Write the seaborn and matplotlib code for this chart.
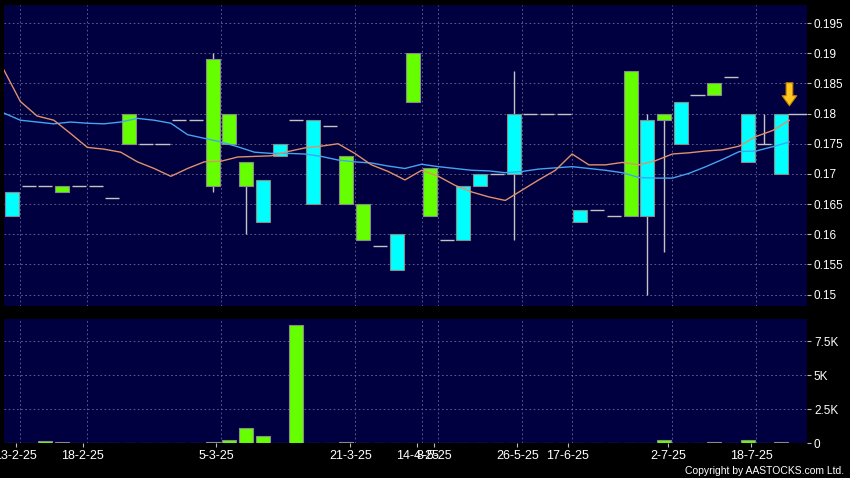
import matplotlib
matplotlib.use("Agg")
import matplotlib.pyplot as plt
import seaborn as sns
import numpy as np
import pandas as pd

# candle data, one entry per bar (oldest first)
opens = [0.163, 0.168, 0.168, 0.168, 0.168, 0.168, 0.166, 0.180, 0.175, 0.175,
         0.179, 0.179, 0.189, 0.180, 0.172, 0.162, 0.173, 0.179, 0.165, 0.178,
         0.173, 0.165, 0.158, 0.154, 0.190, 0.171, 0.159, 0.159, 0.168, 0.170,
         0.170, 0.180, 0.180, 0.180, 0.162, 0.164, 0.163, 0.187, 0.163, 0.180,
         0.175, 0.183, 0.185, 0.186, 0.172, 0.175, 0.170]
closes = [0.167, 0.168, 0.168, 0.167, 0.168, 0.168, 0.166, 0.175, 0.175, 0.175,
          0.179, 0.179, 0.168, 0.175, 0.168, 0.169, 0.175, 0.179, 0.179, 0.178,
          0.165, 0.159, 0.158, 0.160, 0.182, 0.163, 0.159, 0.168, 0.170, 0.170,
          0.180, 0.180, 0.180, 0.180, 0.164, 0.164, 0.163, 0.163, 0.179, 0.179,
          0.182, 0.183, 0.183, 0.186, 0.180, 0.175, 0.180]
highs = [0.167, 0.168, 0.168, 0.168, 0.168, 0.168, 0.166, 0.180, 0.175, 0.175,
         0.179, 0.179, 0.190, 0.180, 0.172, 0.169, 0.175, 0.179, 0.179, 0.178,
         0.173, 0.165, 0.158, 0.160, 0.190, 0.171, 0.159, 0.168, 0.170, 0.170,
         0.187, 0.180, 0.180, 0.180, 0.164, 0.164, 0.163, 0.187, 0.180, 0.180,
         0.182, 0.183, 0.185, 0.186, 0.180, 0.180, 0.180]
lows = [0.163, 0.168, 0.168, 0.167, 0.168, 0.168, 0.166, 0.175, 0.175, 0.175,
        0.179, 0.179, 0.167, 0.175, 0.160, 0.162, 0.173, 0.179, 0.165, 0.178,
        0.165, 0.159, 0.158, 0.154, 0.182, 0.163, 0.159, 0.159, 0.168, 0.170,
        0.159, 0.180, 0.180, 0.180, 0.162, 0.164, 0.163, 0.163, 0.150, 0.157,
        0.175, 0.183, 0.183, 0.186, 0.172, 0.175, 0.170]
volumes = [0, 0, 200, 100, 0, 0, 20, 20, 0, 30,
           0, 0, 100, 250, 1150, 540, 0, 8700, 10, 0,
           70, 0, 10, 10, 10, 0, 50, 0, 50, 0,
           30, 0, 0, 20, 0, 0, 0, 0, 30, 220,
           0, 0, 60, 0, 230, 0, 80]

# moving averages, sampled between bars (one more point than bars)
ma_fast = [0.1873, 0.1820, 0.1796, 0.1789, 0.1767, 0.1744, 0.1741, 0.1736, 0.1720, 0.1709,
           0.1696, 0.1709, 0.1720, 0.1721, 0.1728, 0.1729, 0.1730, 0.1737, 0.1743, 0.1746,
           0.1750, 0.1734, 0.1715, 0.1704, 0.1690, 0.1706, 0.1696, 0.1681, 0.1670, 0.1662,
           0.1656, 0.1673, 0.1690, 0.1706, 0.1733, 0.1715, 0.1715, 0.1719, 0.1715, 0.1722,
           0.1733, 0.1735, 0.1738, 0.1740, 0.1746, 0.1762, 0.1772, 0.1789]
ma_slow = [0.1801, 0.1789, 0.1786, 0.1783, 0.1786, 0.1784, 0.1783, 0.1786, 0.1792, 0.1789,
           0.1784, 0.1765, 0.1759, 0.1753, 0.1745, 0.1736, 0.1734, 0.1734, 0.1733, 0.1729,
           0.1723, 0.1720, 0.1718, 0.1713, 0.1709, 0.1716, 0.1712, 0.1709, 0.1706, 0.1705,
           0.1702, 0.1704, 0.1708, 0.1710, 0.1712, 0.1709, 0.1706, 0.1702, 0.1694, 0.1693,
           0.1693, 0.1701, 0.1712, 0.1724, 0.1737, 0.1738, 0.1745, 0.1753]

# date labels sit on the boundary after the given bar index
date_after_bar = [0, 4, 12, 20, 24, 25, 30, 33, 39, 44]
date_labels = ["13-2-25", "18-2-25", "5-3-25", "21-3-25", "14-4-25", "8-5-25",
               "26-5-25", "17-6-25", "2-7-25", "18-7-25"]
price_ticks = [0.15, 0.155, 0.16, 0.165, 0.17, 0.175, 0.18, 0.185, 0.19, 0.195]
vol_ticks = [0, 2500, 5000, 7500]
vol_tick_labels = ["0", "2.5K", "5K", "7.5K"]

UP = "#00FFFF"
DOWN = "#66FF00"
BG = "#000040"
GRID = "#6a6a9a"
WICK = "#c4c4c4"

sns.set_theme(style="dark", rc={"axes.facecolor": BG, "figure.facecolor": "black"})
plt.rcParams["font.family"] = ["Liberation Sans", "DejaVu Sans"]

o = np.array(opens)
c = np.array(closes)
x = np.arange(len(o))
bw = 0.84
xlim = (-0.48, 47.55)
grid_x = np.array(date_after_bar) + 0.5
grid_style = dict(color=GRID, ls=(0, (2, 3)), lw=0.6, zorder=0)

fig = plt.figure(figsize=(8.5, 4.78), dpi=100, facecolor="black")
ax = fig.add_axes([4 / 850, 1 - 306 / 478, 803 / 850, 301 / 478])
axv = fig.add_axes([4 / 850, 1 - 443.3 / 478, 803 / 850, 124.3 / 478])

for a in (ax, axv):
    a.set_facecolor(BG)
    for s in a.spines.values():
        s.set_visible(False)
    for gx in grid_x:
        a.axvline(gx, **grid_style)

# price panel
ax.vlines(x, lows, highs, color=WICK, lw=1, zorder=2)
body = o != c
ax.bar(x[body], np.abs(c - o)[body], bottom=np.minimum(o, c)[body], width=bw,
       color=np.where(c > o, UP, DOWN)[body], edgecolor="#8a8a8a", linewidth=0.8, zorder=3)
ax.hlines(c[~body], x[~body] - bw / 2, x[~body] + bw / 2, color=WICK, lw=1, zorder=3)

ma_df = pd.DataFrame({"pos": np.arange(len(ma_fast)) - 0.5, "fast": ma_fast, "slow": ma_slow})
sns.lineplot(data=ma_df, x="pos", y="slow", ax=ax, color="#44a4f0", lw=1, zorder=4)
sns.lineplot(data=ma_df, x="pos", y="fast", ax=ax, color="#e0906a", lw=1, zorder=5)

# last price marker
ax.hlines(c[-1], x[-1] + bw / 2, xlim[1], color=WICK, lw=1, zorder=3)
ax.annotate("", xy=(x[-1] + 0.5, c[-1] + 0.0013), xytext=(x[-1] + 0.5, c[-1] + 0.0051),
            arrowprops=dict(arrowstyle="simple,head_length=0.72,head_width=1.05,tail_width=0.48",
                            fc="#FFC81E", ec="#C88200", lw=0.8, mutation_scale=10,
                            shrinkA=0, shrinkB=0), zorder=6)

ax.set_xlim(*xlim)
ax.set_ylim(0.1481, 0.1980)
ax.set_yticks(price_ticks)
ax.set_yticklabels([f"{t:g}" for t in price_ticks])
ax.set_xticks([])
ax.yaxis.tick_right()
ax.tick_params(axis="y", colors="#bbbbbb", labelcolor="white", labelsize=8.5,
               length=3, width=0.8, pad=2, right=True, left=False)
ax.grid(True, axis="y", **grid_style)
ax.set_axisbelow(True)
ax.set_xlabel("")
ax.set_ylabel("")

# volume panel
vol_df = pd.DataFrame({"pos": x, "vol": volumes})
sns.barplot(data=vol_df, x="pos", y="vol", ax=axv, native_scale=True, width=bw,
            color=DOWN, saturation=1, edgecolor="#8a8a8a", linewidth=0.8, errorbar=None, zorder=3)
axv.set_xlim(*xlim)
axv.set_ylim(0, 9140)
axv.set_yticks(vol_ticks)
axv.set_yticklabels(vol_tick_labels)
# date ticks sit a little left of the grid lines, as in the source chart
axv.set_xticks(grid_x - 0.27)
axv.set_xticklabels(date_labels)
axv.yaxis.tick_right()
axv.tick_params(axis="y", colors="#bbbbbb", labelcolor="white", labelsize=8.5,
                length=3, width=0.8, pad=2, right=True, left=False)
axv.tick_params(axis="x", colors="#bbbbbb", labelcolor="white", labelsize=9,
                length=3, width=0.8, pad=2, bottom=True)
axv.grid(True, axis="y", **grid_style)
axv.set_axisbelow(True)
axv.set_xlabel("")
axv.set_ylabel("")

fig.text(0.993, 0.009, "Copyright by AASTOCKS.com Ltd.", ha="right", va="baseline",
         color="white", fontsize=7.5)

fig.savefig("out.png", dpi=100, facecolor="black")
